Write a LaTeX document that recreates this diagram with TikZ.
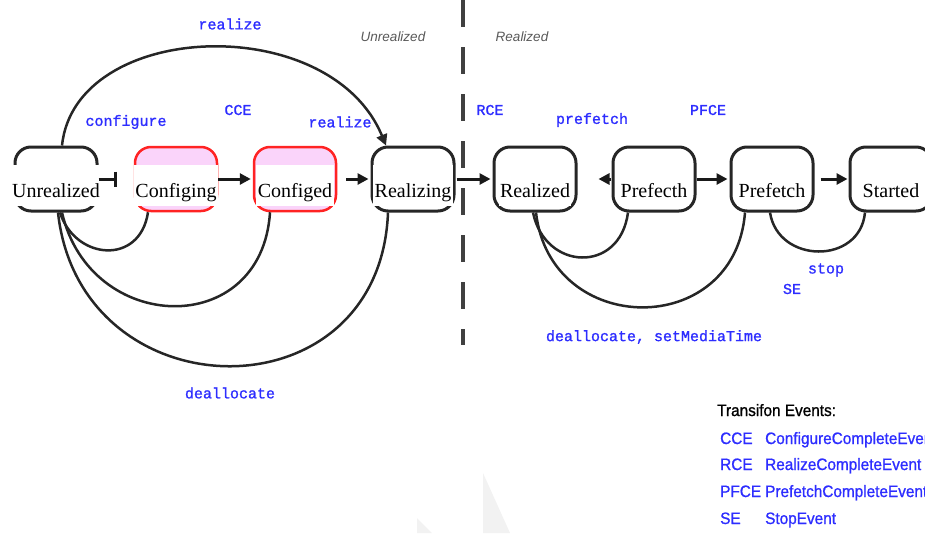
\documentclass[tikz,border=0pt]{standalone}
\usepackage{fontspec}
\setmainfont{Liberation Serif}
\newfontfamily\evfont{Liberation Mono}[FakeBold=1.2]
\newfontfamily\legfont{Liberation Sans}[FakeStretch=0.93,FakeBold=1]
\newfontfamily\zonefont{Liberation Sans}
\usetikzlibrary{arrows.meta}

\definecolor{evblue}{RGB}{45,45,255}
\definecolor{stpink}{RGB}{250,212,250}
\definecolor{stred}{RGB}{255,35,35}

\begin{document}
\begin{tikzpicture}[x=1pt,y=-1pt,
  state/.style={draw=black!85, line width=3pt, rounded corners=16pt,
    minimum width=82pt, minimum height=64pt, inner sep=0pt},
  busy/.style={state, draw=stred, fill=stpink, line width=2.5pt},
  statename/.style={fill=white, font=\fontsize{20}{24}\selectfont,
    text height=32pt, text depth=9pt, inner ysep=0pt, inner xsep=1.5pt, anchor=base},
  trans/.style={line width=3pt, black!90},
  arc/.style={line width=2.5pt, black!85},
  tip/.style={-{Triangle[length=11pt,width=11pt]}},
  ev/.style={text=evblue, font=\evfont\fontsize{15}{17}\selectfont, inner sep=0pt},
  zone/.style={text=black!65, font=\zonefont\itshape\fontsize{13.5}{15}\selectfont, inner sep=0pt},
  leg/.style={font=\legfont\fontsize{16.5}{18}\selectfont, inner sep=0pt, anchor=base west},
  divider/.style={line width=3.5pt, black!75, dash pattern=on 27pt off 20pt},
]
\useasboundingbox (0,0) rectangle (925,533);

% faint background wedges
\fill[black!5] (483,473) -- (510,533) -- (483,533) -- cycle;
\fill[black!5] (417,518) -- (432,533) -- (417,533) -- cycle;

% divider between unrealized and realized states
\coordinate (divtop) at (463,0);
\coordinate (divbot) at (463,345);
\draw[divider] (divtop) -- (divbot);
\node[zone] (zu) at (393,37) {Unrealized};
\node[zone] (zr) at (522,37) {Realized};

% states
\node[state] (unr)  at (56,179)  {};
\node[busy]  (cfgi) at (176,179) {};
\node[busy]  (cfgd) at (295,179) {};
\node[state] (rlz)  at (413,179) {};
\node[state] (rld)  at (535,179) {};
\node[state] (pfh)  at (654,179) {};
\node[state] (pft)  at (772,179) {};
\node[state] (stt)  at (891,179) {};

\node[statename] (unrT)  at ([yshift=-18pt]unr.center)  {Unrealized};
\node[statename] (cfgiT) at ([yshift=-18pt]cfgi.center) {Configing};
\node[statename] (cfgdT) at ([yshift=-18pt]cfgd.center) {Configed};
\node[statename] (rlzT)  at ([yshift=-18pt]rlz.center)  {Realizing};
\node[statename] (rldT)  at ([yshift=-18pt]rld.center)  {Realized};
\node[statename] (pfhT)  at ([yshift=-18pt]pfh.center)  {Prefecth};
\node[statename] (pftT)  at ([yshift=-18pt]pft.center)  {Prefetch};
\node[statename] (sttT)  at ([yshift=-18pt]stt.center)  {Started};

% straight transitions
\draw[trans, -{Bar[width=15pt,line width=3pt]}, shorten >=17pt] (unr.east) -- (cfgi.west);
\draw[trans, tip, shorten >=2pt] (cfgi.east) -- (cfgd.west);
\draw[trans, tip, shorten <=9pt, shorten >=2pt] (cfgd.east) -- (rlz.west);
\draw[trans, tip, shorten <=1pt, shorten >=2pt] (rlz.east) -- (rld.west);
\draw[trans, tip, shorten <=1pt, shorten >=21pt] (pfh.west) -- (rld.east);
\draw[trans, tip, shorten >=2pt] (pfh.east) -- (pft.west);
\draw[trans, tip, shorten <=6pt, shorten >=1pt] (pft.east) -- (stt.west);

% realize shortcut over the top
\draw[arc, tip] ([xshift=6pt]unr.north) .. controls (75,20) and (330,10) .. ([xshift=-27pt]rlz.north);

% deallocate returns
\draw[arc] ([xshift=-28pt]cfgi.south) .. controls (140,266) and (75,260) .. ([xshift=4pt]unr.south);
\draw[arc] ([xshift=-25pt]cfgd.south) .. controls (262,340) and (90,335) .. ([xshift=6pt]unr.south);
\draw[arc] ([xshift=-25pt]rlz.south) .. controls (380,420) and (80,415) .. ([xshift=2pt]unr.south);
\draw[arc] ([xshift=-26pt]pfh.south) .. controls (620,274) and (545,271) .. ([xshift=-2pt]rld.south);
\draw[arc] ([xshift=-27pt]pft.south) .. controls (735,340) and (550,338) .. ([xshift=1pt]rld.south);
\draw[arc] ([xshift=-26pt]stt.south) .. controls (860,265) and (778,264) .. ([xshift=-2pt]pft.south);

% event labels
\node[ev] (l1)  at (230,24)  {realize};
\node[ev] (l2)  at (126,122) {configure};
\node[ev] (l3)  at (238,110) {CCE};
\node[ev] (l4)  at (340,122) {realize};
\node[ev] (l5)  at (490,110) {RCE};
\node[ev] (l6)  at (592,120) {prefetch};
\node[ev] (l7)  at (708,110) {PFCE};
\node[ev] (l8)  at (826,270) {stop};
\node[ev] (l9)  at (792,289) {SE};
\node[ev] (l10) at (230,393) {deallocate};
\node[ev] (l11) at (654,337) {deallocate, setMediaTime};

% legend
\node[leg] (lt) at (717,416) {Transifon Events:};
\node[leg, text=evblue] (a1) at (720,444) {CCE};
\node[leg, text=evblue] (b1) at (765,444) {ConfigureCompleteEvent};
\node[leg, text=evblue] (a2) at (720,470) {RCE};
\node[leg, text=evblue] (b2) at (765,470) {RealizeCompleteEvent};
\node[leg, text=evblue] (a3) at (720,497) {PFCE};
\node[leg, text=evblue] (b3) at (765,497) {PrefetchCompleteEvent};
\node[leg, text=evblue] (a4) at (720,524) {SE};
\node[leg, text=evblue] (b4) at (765,524) {StopEvent};
\end{tikzpicture}
\end{document}
